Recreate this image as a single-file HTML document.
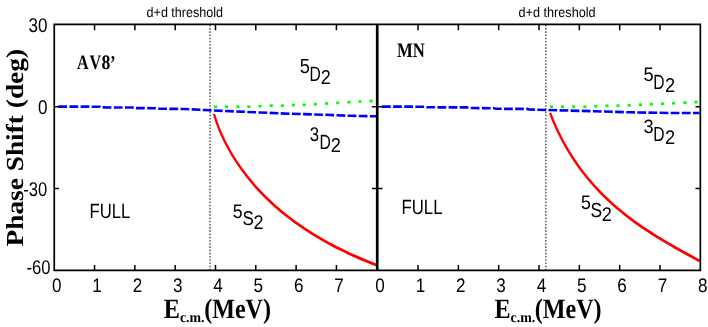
<!DOCTYPE html>
<html><head><meta charset="utf-8"><style>
html,body{margin:0;padding:0;background:#fff}
svg{display:block;will-change:transform}
text{font-size:100px;fill:#000;font-kerning:none;text-rendering:geometricPrecision}
.s{font-family:"Liberation Sans",sans-serif}
.b{font-family:"Liberation Serif",serif;font-weight:bold}
</style></head><body>
<svg width="708" height="327" viewBox="0 0 708 327">
<rect width="708" height="327" fill="#fff"/>
<path d="M210.05,24.88 V270.4 M545.85,24.88 V270.4" stroke="#5a5a5a" stroke-width="1.5" stroke-dasharray="1.6,1.61" fill="none"/>
<path d="M58.30,106.60 L100.00,106.70 L101.00,107.40 L134.00,107.50 L136.00,108.10 L157.00,108.20 L158.00,108.70 L185.00,109.00 L210.00,110.30 L240.00,111.60 L260.00,112.50 L285.00,113.60 L300.00,114.00 L326.00,114.80 L350.00,115.80 L376.20,116.30" fill="none" stroke="#0000ff" stroke-width="2.6" stroke-dasharray="8.75,2.4"/>
<path d="M382.00,106.60 L425.00,106.70 L427.00,107.30 L467.00,107.40 L469.00,108.05 L494.00,108.20 L496.00,108.80 L527.00,108.90 L529.00,109.50 L557.00,110.30 L594.00,111.20 L630.00,112.30 L670.00,113.00 L699.50,113.00" fill="none" stroke="#0000ff" stroke-width="2.6" stroke-dasharray="8.75,2.37"/>
<g fill="#00ff00"><rect x="214.00" y="105.40" width="3.1" height="2.7"/><rect x="225.10" y="105.40" width="3.1" height="2.7"/><rect x="236.30" y="105.40" width="3.1" height="2.7"/><rect x="247.30" y="105.40" width="3.1" height="2.7"/><rect x="258.50" y="104.90" width="3.1" height="2.7"/><rect x="269.70" y="104.30" width="3.1" height="2.7"/><rect x="280.80" y="104.30" width="3.1" height="2.7"/><rect x="291.80" y="103.60" width="3.1" height="2.7"/><rect x="302.70" y="103.50" width="3.1" height="2.7"/><rect x="313.90" y="102.80" width="3.1" height="2.7"/><rect x="325.00" y="102.10" width="3.1" height="2.7"/><rect x="336.20" y="101.50" width="3.1" height="2.7"/><rect x="347.40" y="100.80" width="3.1" height="2.7"/><rect x="358.40" y="100.20" width="3.1" height="2.7"/><rect x="369.60" y="99.70" width="3.1" height="2.7"/><rect x="549.90" y="105.40" width="3.1" height="2.7"/><rect x="560.90" y="105.40" width="3.1" height="2.7"/><rect x="572.10" y="105.40" width="3.1" height="2.7"/><rect x="583.30" y="105.40" width="3.1" height="2.7"/><rect x="594.30" y="105.00" width="3.1" height="2.7"/><rect x="605.40" y="104.40" width="3.1" height="2.7"/><rect x="616.50" y="104.30" width="3.1" height="2.7"/><rect x="627.50" y="103.90" width="3.1" height="2.7"/><rect x="638.90" y="103.30" width="3.1" height="2.7"/><rect x="649.90" y="102.80" width="3.1" height="2.7"/><rect x="661.00" y="102.40" width="3.1" height="2.7"/><rect x="672.00" y="101.90" width="3.1" height="2.7"/><rect x="683.40" y="101.30" width="3.1" height="2.7"/><rect x="694.40" y="100.80" width="3.1" height="2.7"/></g>
<path d="M212.90,114.29 L213.67,116.91 L214.51,119.58 L215.43,122.29 L216.41,125.03 L217.46,127.79 L218.58,130.58 L219.76,133.40 L221.02,136.23 L222.34,139.08 L223.73,141.95 L225.19,144.83 L226.72,147.72 L228.32,150.62 L229.98,153.53 L231.72,156.44 L233.52,159.35 L235.39,162.26 L237.33,165.17 L239.34,168.07 L241.42,170.97 L243.56,173.86 L245.78,176.75 L248.06,179.62 L250.41,182.47 L252.83,185.32 L255.32,188.15 L257.87,190.96 L260.50,193.75 L263.19,196.52 L265.95,199.27 L268.78,202.00 L271.68,204.70 L274.65,207.38 L277.69,210.03 L280.79,212.66 L283.96,215.26 L287.21,217.83 L290.52,220.37 L293.89,222.88 L297.34,225.36 L300.86,227.81 L304.44,230.23 L308.09,232.62 L311.81,234.97 L315.60,237.29 L319.46,239.58 L323.38,241.84 L327.37,244.06 L331.44,246.25 L335.56,248.40 L339.76,250.52 L344.03,252.61 L348.36,254.67 L352.76,256.69 L357.23,258.68 L361.77,260.64 L366.38,262.56 L371.05,264.46 L375.79,266.32 L376.81,263.70 L372.09,261.85 L367.44,259.97 L362.86,258.06 L358.35,256.12 L353.91,254.15 L349.54,252.14 L345.23,250.11 L340.99,248.04 L336.83,245.94 L332.73,243.81 L328.69,241.64 L324.73,239.45 L320.83,237.22 L317.01,234.96 L313.25,232.66 L309.55,230.34 L305.93,227.98 L302.38,225.59 L298.89,223.17 L295.47,220.72 L292.12,218.24 L288.84,215.73 L285.62,213.20 L282.47,210.63 L279.39,208.04 L276.38,205.42 L273.44,202.78 L270.56,200.11 L267.76,197.42 L265.02,194.71 L262.35,191.97 L259.74,189.22 L257.21,186.45 L254.74,183.66 L252.34,180.86 L250.01,178.04 L247.74,175.21 L245.54,172.36 L243.42,169.51 L241.35,166.65 L239.36,163.79 L237.44,160.92 L235.58,158.05 L233.79,155.17 L232.07,152.30 L230.41,149.44 L228.83,146.58 L227.31,143.73 L225.86,140.89 L224.48,138.06 L223.17,135.25 L221.92,132.46 L220.74,129.69 L219.63,126.94 L218.59,124.22 L217.62,121.52 L216.71,118.86 L215.88,116.23 L215.10,113.63Z" fill="#ff0000"/>
<path d="M549.01,113.29 L549.76,115.32 L550.58,117.44 L551.46,119.65 L552.40,121.94 L553.40,124.29 L554.47,126.71 L555.59,129.19 L556.78,131.72 L558.03,134.30 L559.34,136.92 L560.71,139.59 L562.14,142.28 L563.64,145.01 L565.20,147.76 L566.81,150.53 L568.50,153.32 L570.24,156.12 L572.04,158.93 L573.91,161.74 L575.84,164.56 L577.82,167.38 L579.88,170.19 L581.99,173.00 L584.16,175.79 L586.40,178.58 L588.70,181.36 L591.06,184.11 L593.48,186.86 L595.97,189.58 L598.51,192.28 L601.12,194.96 L603.79,197.62 L606.52,200.26 L609.31,202.87 L612.17,205.46 L615.08,208.02 L618.06,210.55 L621.10,213.07 L624.20,215.55 L627.36,218.02 L630.59,220.46 L633.87,222.88 L637.22,225.27 L640.62,227.64 L644.09,230.00 L647.62,232.34 L651.21,234.66 L654.87,236.97 L658.58,239.26 L662.35,241.55 L666.19,243.83 L670.08,246.10 L674.04,248.38 L678.05,250.65 L682.13,252.93 L686.27,255.22 L690.47,257.52 L694.73,259.84 L699.05,262.18 L700.35,259.75 L696.04,257.42 L691.78,255.11 L687.59,252.81 L683.47,250.53 L679.40,248.26 L675.39,246.00 L671.45,243.74 L667.57,241.47 L663.75,239.21 L660.00,236.94 L656.30,234.66 L652.67,232.37 L649.10,230.07 L645.59,227.76 L642.15,225.43 L638.76,223.08 L635.44,220.71 L632.18,218.32 L628.98,215.91 L625.84,213.47 L622.77,211.02 L619.75,208.54 L616.80,206.03 L613.90,203.50 L611.07,200.95 L608.30,198.37 L605.59,195.77 L602.95,193.15 L600.36,190.51 L597.83,187.84 L595.37,185.16 L592.97,182.45 L590.63,179.73 L588.34,176.99 L586.12,174.24 L583.97,171.48 L581.87,168.71 L579.83,165.93 L577.86,163.15 L575.94,160.37 L574.09,157.59 L572.30,154.81 L570.56,152.05 L568.89,149.29 L567.29,146.55 L565.74,143.83 L564.25,141.14 L562.83,138.48 L561.46,135.84 L560.16,133.25 L558.92,130.70 L557.74,128.19 L556.62,125.74 L555.56,123.35 L554.56,121.03 L553.63,118.77 L552.76,116.59 L551.94,114.49 L551.19,112.48Z" fill="#ff0000"/>
<path d="M54.25,24.4 H376.73 V270.4 H54.25 Z M377.7,24.4 H700.34 V270.4 H377.7 Z" fill="none" stroke="#000" stroke-width="1.7"/>
<path d="M94.56,24.4 v5.8 M94.56,270.4 v-5.3 M418.03,24.4 v5.8 M418.03,270.4 v-5.3 M134.87,24.4 v5.8 M134.87,270.4 v-5.3 M458.36,24.4 v5.8 M458.36,270.4 v-5.3 M175.18,24.4 v5.8 M175.18,270.4 v-5.3 M498.69,24.4 v5.8 M498.69,270.4 v-5.3 M215.49,24.4 v5.8 M215.49,270.4 v-5.3 M539.02,24.4 v5.8 M539.02,270.4 v-5.3 M255.80,24.4 v5.8 M255.80,270.4 v-5.3 M579.35,24.4 v5.8 M579.35,270.4 v-5.3 M296.11,24.4 v5.8 M296.11,270.4 v-5.3 M619.68,24.4 v5.8 M619.68,270.4 v-5.3 M336.42,24.4 v5.8 M336.42,270.4 v-5.3 M660.01,24.4 v5.8 M660.01,270.4 v-5.3 M54,106.7 h5 M371.9,106.7 h10.6 M695.5,106.7 h5 M54,188.5 h5 M371.9,188.5 h10.6 M695.5,188.5 h5" fill="none" stroke="#000" stroke-width="1.5"/>
<text class="s" transform="translate(146.56,16.76) scale(0.1257,0.1397)">d+d threshold</text>
<text class="s" transform="translate(518.49,16.76) scale(0.1266,0.1397)">d+d threshold</text>
<text class="s" transform="translate(28.52,31.80) scale(0.1709,0.1986)">30</text>
<text class="s" transform="translate(37.92,114.00) scale(0.1708,0.2000)">0</text>
<text class="s" transform="translate(23.24,196.00) scale(0.1657,0.1986)">-30</text>
<text class="s" transform="translate(26.44,273.90) scale(0.1657,0.1986)">-60</text>
<text class="b" transform="translate(76.94,69.05) scale(0.1614,0.2046)">A</text>
<text class="b" transform="translate(89.54,69.05) scale(0.1614,0.2046)">V</text>
<text class="b" transform="translate(101.47,69.05) scale(0.1773,0.2046)">8</text>
<text class="b" transform="translate(109.98,70.62) scale(0.1700,0.2276)">’</text>
<text class="b" transform="translate(396.97,57.20) scale(0.1669,0.2046)">MN</text>
<text class="s" transform="translate(89.46,218.09) scale(0.1670,0.2057)">FULL</text>
<text class="s" transform="translate(401.45,214.09) scale(0.1682,0.2057)">FULL</text>
<text class="s" transform="translate(299.67,73.20) scale(0.1830,0.2029)">5</text>
<text class="s" transform="translate(309.45,80.80) scale(0.1559,0.2087)">D</text>
<text class="s" transform="translate(320.70,84.00) scale(0.1804,0.2014)">2</text>
<text class="s" transform="translate(309.63,141.10) scale(0.1681,0.1986)">3</text>
<text class="s" transform="translate(319.54,148.80) scale(0.1576,0.2058)">D</text>
<text class="s" transform="translate(330.79,152.20) scale(0.1826,0.2014)">2</text>
<text class="s" transform="translate(232.79,217.50) scale(0.1766,0.1971)">5</text>
<text class="s" transform="translate(242.55,225.40) scale(0.1702,0.2014)">S</text>
<text class="s" transform="translate(253.50,228.60) scale(0.1804,0.1971)">2</text>
<text class="s" transform="translate(643.57,81.10) scale(0.1830,0.1971)">5</text>
<text class="s" transform="translate(653.35,88.80) scale(0.1559,0.2058)">D</text>
<text class="s" transform="translate(664.89,92.20) scale(0.1826,0.2014)">2</text>
<text class="s" transform="translate(643.57,133.31) scale(0.1830,0.1930)">3</text>
<text class="s" transform="translate(653.35,140.90) scale(0.1559,0.2043)">D</text>
<text class="s" transform="translate(664.89,144.20) scale(0.1826,0.1971)">2</text>
<text class="s" transform="translate(580.99,209.40) scale(0.1766,0.1957)">5</text>
<text class="s" transform="translate(590.43,217.30) scale(0.1737,0.2042)">S</text>
<text class="s" transform="translate(601.69,220.60) scale(0.1826,0.1971)">2</text>
<text class="b" transform="translate(163.82,317.70) scale(0.2417,0.2800)">E</text>
<text class="b" transform="translate(179.99,322.25) scale(0.1382,0.1458)">c.m.</text>
<text class="b" transform="translate(204.14,317.70) scale(0.2409,0.2800)">(MeV)</text>
<text class="b" transform="translate(494.42,317.70) scale(0.2417,0.2800)">E</text>
<text class="b" transform="translate(510.59,322.25) scale(0.1382,0.1458)">c.m.</text>
<text class="b" transform="translate(534.74,317.70) scale(0.2409,0.2800)">(MeV)</text>
<text class="s" transform="translate(52.02,292.10) scale(0.1708,0.1958)">0</text>
<text class="s" transform="translate(92.33,292.10) scale(0.1708,0.1958)">1</text>
<text class="s" transform="translate(132.64,292.10) scale(0.1708,0.1958)">2</text>
<text class="s" transform="translate(172.95,292.10) scale(0.1708,0.1958)">3</text>
<text class="s" transform="translate(213.26,292.10) scale(0.1708,0.1958)">4</text>
<text class="s" transform="translate(253.57,292.10) scale(0.1708,0.1958)">5</text>
<text class="s" transform="translate(293.88,292.10) scale(0.1708,0.1958)">6</text>
<text class="s" transform="translate(334.19,292.10) scale(0.1708,0.1958)">7</text>
<text class="s" transform="translate(375.37,292.10) scale(0.1708,0.1958)">0</text>
<text class="s" transform="translate(415.70,292.10) scale(0.1708,0.1958)">1</text>
<text class="s" transform="translate(456.03,292.10) scale(0.1708,0.1958)">2</text>
<text class="s" transform="translate(496.36,292.10) scale(0.1708,0.1958)">3</text>
<text class="s" transform="translate(536.69,292.10) scale(0.1708,0.1958)">4</text>
<text class="s" transform="translate(577.02,292.10) scale(0.1708,0.1958)">5</text>
<text class="s" transform="translate(617.35,292.10) scale(0.1708,0.1958)">6</text>
<text class="s" transform="translate(657.68,292.10) scale(0.1708,0.1958)">7</text>
<text class="s" transform="translate(698.01,292.10) scale(0.1708,0.1958)">8</text>
<text class="b" transform="translate(22.95,246.55) rotate(-90) scale(0.2736,0.2438)">Phase Shift (deg)</text>
</svg></body></html>
